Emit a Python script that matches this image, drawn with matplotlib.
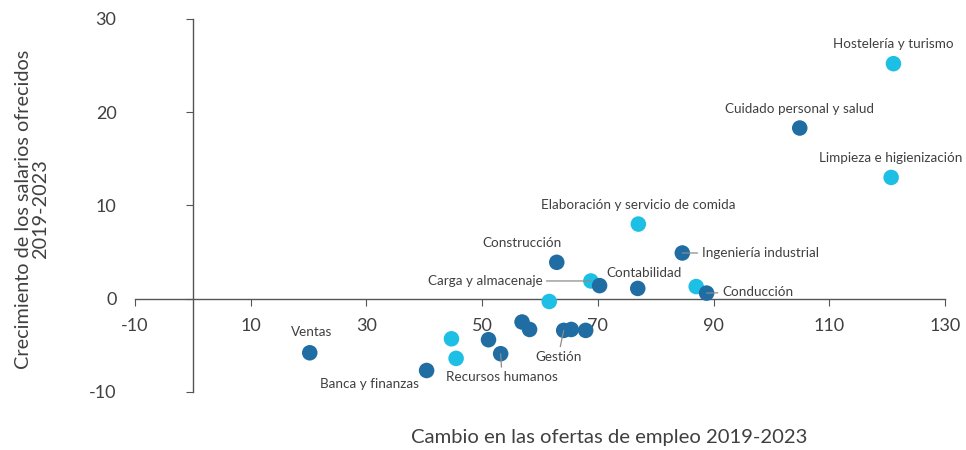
import matplotlib.pyplot as plt

plt.rcParams['font.family'] = ['Lato', 'DejaVu Sans']
plt.rcParams['axes.unicode_minus'] = False

# data
sectors = [
    "Hostelería y turismo", "Cuidado personal y salud", "Limpieza e higienización",
    "Elaboración y servicio de comida", "Ingeniería industrial", "Construcción",
    "Carga y almacenaje", "Contabilidad", "", "", "Conducción", "",
    "", "", "Gestión", "", "", "", "", "", "Recursos humanos", "Ventas",
    "Banca y finanzas",
]
job_change = [121.1, 104.9, 120.7, 77.0, 84.6, 62.9, 68.8, 70.3, 76.9, 87.0, 88.8, 61.6,
              56.9, 58.2, 64.1, 65.4, 67.9, 51.1, 44.7, 45.5, 53.2, 20.2, 40.4]
wage_growth = [25.2, 18.3, 13.0, 8.0, 4.9, 3.9, 1.9, 1.4, 1.1, 1.3, 0.6, -0.3,
               -2.5, -3.3, -3.4, -3.3, -3.4, -4.4, -4.3, -6.4, -5.9, -5.8, -7.7]
group = ["b", "a", "b", "b", "a", "a", "b", "a", "a", "b", "a", "b",
         "a", "a", "a", "a", "a", "a", "b", "b", "a", "a", "a"]

colors = {"a": "#1F6DA2", "b": "#1EBFE5"}
text_col = "#404040"

# label placement: (dx, dy in points, ha, leader line)
placement = {
    "Hostelería y turismo": (0, 14, "center", False),
    "Cuidado personal y salud": (0, 14, "center", False),
    "Limpieza e higienización": (0, 14, "center", False),
    "Elaboración y servicio de comida": (0, 14, "center", False),
    "Ingeniería industrial": (14, 0, "left", True),
    "Construcción": (-25, 14, "center", False),
    "Carga y almacenaje": (-35, 0, "right", True),
    "Contabilidad": (5, 9, "left", False),
    "Conducción": (11, 1, "left", True),
    "Ventas": (1, 15, "center", False),
    "Banca y finanzas": (-41, -10, "center", False),
    "Recursos humanos": (1, -17, "center", True),
    "Gestión": (-4, -19, "center", True),
}

fig = plt.figure(figsize=(9.66, 4.5), dpi=100)
ax = fig.add_axes([0.1398, 0.129, 0.8384, 0.829])

ax.scatter(job_change, wage_growth, s=125, c=[colors[g] for g in group],
           linewidths=0, zorder=3)

for name, x, y in zip(sectors, job_change, wage_growth):
    if not name:
        continue
    dx, dy, ha, leader = placement[name]
    arrow = dict(arrowstyle="-", color="#8c8c8c", lw=0.9, shrinkA=1, shrinkB=0) if leader else None
    ax.annotate(name, (x, y), xytext=(dx, dy), textcoords="offset points",
                ha=ha, va="center", fontsize=9.7, color=text_col,
                arrowprops=arrow, zorder=4)

ax.set_xlim(-10, 130)
ax.set_ylim(-10, 30)
ax.set_xticks([-10, 10, 30, 50, 70, 90, 110, 130])
ax.set_yticks([-10, 0, 10, 20, 30])

ax.spines["left"].set_position(("data", 0))
ax.spines["bottom"].set_position(("data", 0))
ax.spines["top"].set_visible(False)
ax.spines["right"].set_visible(False)
for sp in ("left", "bottom"):
    ax.spines[sp].set_color("#555555")
    ax.spines[sp].set_linewidth(1)

ax.tick_params(axis="x", direction="out", length=5, color="#555555", pad=9,
               labelsize=13, labelcolor=text_col)
ax.tick_params(axis="y", direction="out", length=5, color="#555555", pad=50,
               labelsize=13, labelcolor=text_col)

fig.text(0.631, 0.027, "Cambio en las ofertas de empleo 2019-2023", ha="center",
         va="center", fontsize=14.6, color=text_col)
fig.text(0.033, 0.535, "Crecimiento de los salarios ofrecidos\n2019-2023", ha="center",
         va="center", rotation=90, fontsize=14.3, color=text_col, linespacing=1.0)

plt.savefig("out.png", dpi=100)
plt.close()
